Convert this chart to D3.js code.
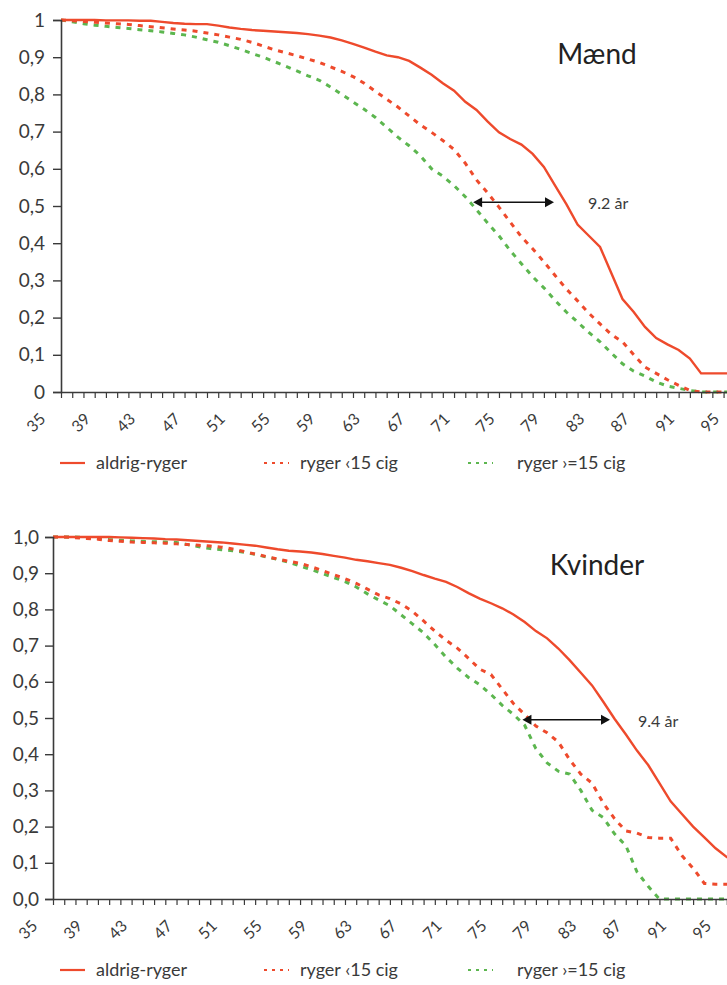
<!DOCTYPE html>
<html>
<head>
<meta charset="utf-8">
<script src="https://cdn.jsdelivr.net/npm/d3@7"></script>
<style>
body { margin: 0; background: #fff; }
svg { display: block; font-family: Lato, "Open Sans", sans-serif; }
</style>
</head>
<body>
<script>
// ages on the x axis (1 year steps)
var ages = [35,36,37,38,39,40,41,42,43,44,45,46,47,48,49,50,51,52,53,54,
  55,56,57,58,59,60,61,62,63,64,65,66,67,68,69,70,71,72,73,74,
  75,76,77,78,79,80,81,82,83,84,85,86,87,88,89,90,91,92,93,94,
  95,96,97,98]
var ageLabels = [35,39,43,47,51,55,59,63,67,71,75,79,83,87,91,95]
var yTicks = [0,0.1,0.2,0.3,0.4,0.5,0.6,0.7,0.8,0.9,1]

var seriesNames = ["aldrig-ryger", "ryger \u203915 cig", "ryger \u203a=15 cig"]

// Mænd
var maendAldrig = [1,1,1,1,0.999,0.999,0.999,0.998,0.998,0.995,
  0.992,0.99,0.989,0.989,0.985,0.98,0.976,0.973,0.971,0.969,
  0.967,0.965,0.962,0.958,0.953,0.945,0.936,0.926,0.915,0.905,
  0.9,0.89,0.872,0.853,0.83,0.81,0.78,0.758,0.727,0.698,
  0.68,0.665,0.64,0.605,0.555,0.505,0.45,0.42,0.39,0.32,
  0.25,0.215,0.175,0.145,0.128,0.113,0.09,0.05,0.05,0.05,
  0.05,0.05,0.05,0.05]
var maendUnder15 = [1,0.998,0.996,0.994,0.992,0.99,0.988,0.985,0.982,0.979,
  0.976,0.973,0.97,0.965,0.96,0.954,0.948,0.94,0.93,0.92,
  0.912,0.904,0.895,0.886,0.874,0.862,0.848,0.83,0.808,0.787,
  0.766,0.742,0.718,0.698,0.676,0.652,0.615,0.57,0.535,0.497,
  0.457,0.417,0.385,0.35,0.313,0.277,0.245,0.212,0.183,0.155,
  0.135,0.1,0.067,0.05,0.033,0.018,0.004,0,0,0,
  0,0,0,0]
var maendOver15 = [1,0.995,0.99,0.986,0.983,0.98,0.977,0.974,0.971,0.968,
  0.964,0.96,0.954,0.947,0.94,0.931,0.921,0.91,0.9,0.888,
  0.876,0.863,0.85,0.838,0.82,0.8,0.78,0.76,0.738,0.712,
  0.685,0.662,0.635,0.6,0.58,0.555,0.525,0.49,0.454,0.42,
  0.38,0.345,0.31,0.28,0.246,0.215,0.188,0.16,0.135,0.105,
  0.076,0.056,0.043,0.027,0.016,0.01,0.004,0,0,0,
  0,0,0,0]

// Kvinder
var kvinderAldrig = [1,1,1,1,1,1,0.999,0.998,0.997,0.996,
  0.994,0.993,0.991,0.989,0.987,0.985,0.982,0.979,0.976,0.971,
  0.966,0.962,0.96,0.957,0.953,0.948,0.943,0.937,0.933,0.928,
  0.923,0.915,0.906,0.895,0.885,0.876,0.862,0.845,0.83,0.817,
  0.803,0.786,0.765,0.74,0.72,0.692,0.66,0.625,0.59,0.545,
  0.498,0.455,0.41,0.37,0.32,0.27,0.235,0.2,0.17,0.14,
  0.116,0.095,0.075,0.06]
var kvinderUnder15 = [1,1,0.998,0.996,0.994,0.99,0.988,0.986,0.985,0.984,
  0.983,0.981,0.979,0.977,0.975,0.972,0.967,0.96,0.953,0.946,
  0.939,0.933,0.927,0.918,0.907,0.896,0.885,0.872,0.856,0.84,
  0.83,0.815,0.795,0.768,0.74,0.715,0.693,0.665,0.635,0.62,
  0.58,0.54,0.51,0.478,0.459,0.434,0.385,0.345,0.32,0.265,
  0.222,0.188,0.182,0.17,0.168,0.168,0.12,0.085,0.043,0.041,
  0.041,0.04,0.04,0.04]
var kvinderOver15 = [1,1,1,0.998,0.996,0.993,0.991,0.989,0.988,0.987,
  0.986,0.985,0.979,0.973,0.968,0.965,0.962,0.958,0.952,0.945,
  0.938,0.93,0.92,0.91,0.899,0.888,0.877,0.862,0.843,0.826,
  0.81,0.785,0.76,0.735,0.703,0.668,0.638,0.612,0.592,0.565,
  0.535,0.51,0.48,0.415,0.376,0.353,0.345,0.3,0.245,0.225,
  0.18,0.148,0.075,0.035,0,0,0,0,0,0,
  0,0,0,0]

var red = "#ee4a2c", green = "#5cb64f", ink = "#3a3a3a"

var svg = d3.select("body").append("svg")
  .attr("width", 727).attr("height", 985)

function drawPanel(opt) {
  var x = d3.scaleLinear().domain([35, 100]).range([opt.left, opt.left + 65 * 11.23])
  var y = d3.scaleLinear().domain([0, 1]).range([opt.bottom, opt.top])
  var g = svg.append("g")

  // title box + title
  g.append("rect").attr("x", opt.titleX - 62).attr("y", opt.titleY - 36)
    .attr("width", 124).attr("height", 66).attr("fill", "#fff")
  g.append("text").attr("x", opt.titleX).attr("y", opt.titleY)
    .attr("text-anchor", "middle").attr("font-size", 28).attr("fill", "#222")
    .text(opt.title)

  // series
  var series = [
    {vals: opt.data[0], color: red, dash: null, w: 2.4},
    {vals: opt.data[1], color: red, dash: "5,6", w: 3},
    {vals: opt.data[2], color: green, dash: "5,6", w: 3}
  ]
  var line = d3.line().x(function(d) { return x(d[0]) }).y(function(d) { return y(d[1]) })
  series.slice().reverse().forEach(function(s) {
    g.append("path")
      .datum(ages.map(function(a, i) { return [a, s.vals[i]] }))
      .attr("fill", "none")
      .attr("stroke", s.color)
      .attr("stroke-width", s.w)
      .attr("stroke-dasharray", s.dash)
      .attr("d", line)
  })

  // y axis
  var yAxis = d3.axisLeft(y).tickValues(yTicks).tickSize(8).tickFormat(opt.yFmt)
  g.append("g").attr("transform", "translate(" + opt.left + ",0)").call(yAxis)
    .call(function(a) {
      a.select(".domain").attr("stroke", ink).attr("stroke-width", 1.6)
      a.selectAll(".tick line").attr("stroke", ink).attr("stroke-width", 1.4)
      a.selectAll("text").attr("font-size", 19).attr("fill", ink)
        .attr("font-family", "Lato, sans-serif").attr("x", -opt.yLabelGap)
    })

  // x axis
  var xAxis = d3.axisBottom(x).tickValues(d3.range(35, 101)).tickSize(6).tickSizeOuter(0)
    .tickFormat(function(d) { return ageLabels.indexOf(d) >= 0 ? d : "" })
  g.append("g").attr("transform", "translate(0," + opt.bottom + ")").call(xAxis)
    .call(function(a) {
      a.select(".domain").attr("stroke", ink).attr("stroke-width", 1.6)
      a.selectAll(".tick line").attr("stroke", ink).attr("stroke-width", 1.2)
      a.selectAll("text").attr("font-size", 16).attr("fill", ink)
        .attr("font-family", "Lato, sans-serif")
        .attr("x", 0).attr("y", 0).attr("dy", 0)
        .attr("text-anchor", "end")
        .attr("transform", "translate(-15,28) rotate(-45)")
    })

  // arrow annotation
  var ay = y(opt.arrow[2])
  var ax1 = x(opt.arrow[0]), ax2 = x(opt.arrow[1])
  g.append("line").attr("x1", ax1 + 6).attr("x2", ax2 - 6).attr("y1", ay).attr("y2", ay)
    .attr("stroke", "#111").attr("stroke-width", 1.4)
  g.append("path").attr("d", "M" + ax1 + "," + ay + "l9,-5l0,10z").attr("fill", "#111")
  g.append("path").attr("d", "M" + ax2 + "," + ay + "l-9,-5l0,10z").attr("fill", "#111")
  g.append("text").attr("x", opt.noteX).attr("y", ay + 7)
    .attr("font-size", 16).attr("fill", ink).text(opt.note)

  // legend
  var ly = opt.legendY
  var lx = [60, 264, 468]
  var tx = [96, 300, 517]
  seriesNames.forEach(function(name, i) {
    g.append("line").attr("x1", lx[i]).attr("x2", lx[i] + 25).attr("y1", ly - 6).attr("y2", ly - 6)
      .attr("stroke", series[i].color).attr("stroke-width", i === 0 ? 2.2 : 1.8)
      .attr("stroke-dasharray", i === 0 ? null : "3,5")
    g.append("text").attr("x", tx[i]).attr("y", ly).attr("font-size", 18)
      .attr("fill", ink).text(name)
  })
}

drawPanel({
  left: 61, top: 20, bottom: 392,
  title: "Mænd", titleX: 597, titleY: 64,
  data: [maendAldrig, maendUnder15, maendOver15],
  yFmt: function(d) { return d === 0 ? "0" : d === 1 ? "1" : d3.format(".1f")(d).replace(".", ",") },
  yLabelGap: 16,
  arrow: [71.7, 78.9, 0.51], note: "9.2 år", noteX: 588,
  legendY: 469
})

drawPanel({
  left: 53, top: 537, bottom: 899,
  title: "Kvinder", titleX: 597, titleY: 575,
  data: [kvinderAldrig, kvinderUnder15, kvinderOver15],
  yFmt: function(d) { return d3.format(".1f")(d).replace(".", ",") },
  yLabelGap: 14,
  arrow: [76.8, 84.6, 0.495], note: "9.4 år", noteX: 638,
  legendY: 976
})
</script>
</body>
</html>
